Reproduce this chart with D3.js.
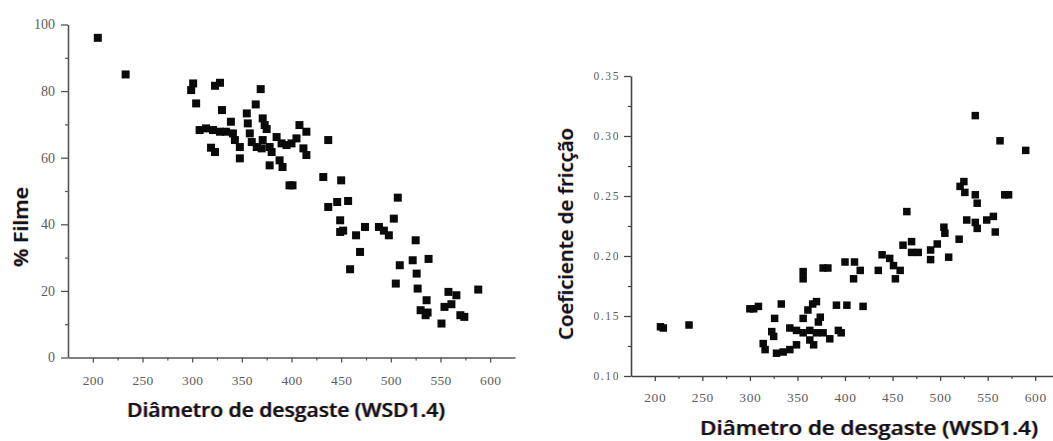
<!DOCTYPE html>
<html>
<head>
<meta charset="utf-8">
<script src="https://cdn.jsdelivr.net/npm/d3@7"></script>
<style>
  html, body { margin: 0; padding: 0; background: #fff; }
  svg { display: block; }
  .axis-title { font-family: "Open Sans", "Noto Sans", sans-serif; font-weight: 600; }
</style>
</head>
<body>
<svg id="chart" width="1053" height="441"></svg>
<script>
// Wear scar diameter (WSD1.4) vs % film
const wsdFilm = [205, 233, 299, 301, 304, 323, 328, 330, 364, 369,
  307.5, 314, 321, 328, 334, 319, 323, 339, 341, 343, 348, 348,
  355, 356, 358, 360, 365, 371, 373, 371, 370, 375, 378, 380, 378,
  385, 388, 391, 390, 395, 400, 405, 398, 401, 408, 415, 412, 415,
  437, 432, 450, 437, 446, 457, 449, 449, 452, 465, 474, 469, 459,
  488, 493, 498, 503, 507, 505, 509, 522, 525, 526, 527, 538,
  530, 535, 536, 537, 551, 554, 558, 561, 566, 570, 574, 588];
const pctFilm = [96, 85, 80.3, 82.3, 76.3, 81.6, 82.5, 74.3, 76, 80.6,
  68.3, 68.8, 68.3, 67.8, 67.8, 63, 61.7, 70.8, 67.3, 65.3, 63.2, 59.8,
  73.3, 70.3, 67.3, 64.7, 63.2, 71.8, 69.8, 65.3, 62.8, 68.6, 63.2, 61.7, 57.7,
  66.2, 59.2, 57.2, 64.3, 63.8, 64.3, 65.8, 51.7, 51.7, 69.8, 67.8, 62.8, 60.8,
  65.3, 54.2, 53.2, 45.2, 46.7, 47, 41.2, 37.7, 38.1, 36.7, 39.2, 31.7, 26.5,
  39.2, 38.1, 36.7, 41.7, 48, 22.2, 27.7, 29.2, 35.2, 25.2, 20.7, 29.6,
  14.2, 12.7, 17.2, 13.5, 10.2, 15.2, 19.7, 16, 18.7, 12.7, 12.2, 20.4];

// Wear scar diameter (WSD1.4) vs friction coefficient
const wsdFric = [206, 209, 236, 300, 304, 309, 333, 326, 323, 325,
  314, 316, 328, 335, 342, 349, 342, 349, 356, 361, 366, 370,
  356, 363, 370, 377, 384, 363, 367, 374, 372, 393, 396,
  391, 402, 419, 356, 356, 377, 382, 400, 410, 416, 409,
  435, 439, 447, 451, 458, 453, 465, 461, 470, 470, 477,
  490, 490, 497, 504, 505, 509, 520, 521, 525, 526, 537, 539,
  528, 537, 539, 549, 556, 558, 537, 563, 568, 572, 590];
const coefFric = [0.141, 0.140, 0.1425, 0.156, 0.156, 0.158, 0.160, 0.148, 0.137, 0.133,
  0.127, 0.122, 0.119, 0.120, 0.122, 0.126, 0.140, 0.138, 0.148, 0.155, 0.160, 0.162,
  0.136, 0.138, 0.136, 0.136, 0.131, 0.130, 0.126, 0.149, 0.145, 0.138, 0.136,
  0.159, 0.159, 0.158, 0.181, 0.187, 0.190, 0.190, 0.195, 0.195, 0.188, 0.181,
  0.188, 0.201, 0.198, 0.192, 0.188, 0.181, 0.237, 0.209, 0.212, 0.203, 0.203,
  0.197, 0.205, 0.210, 0.224, 0.219, 0.199, 0.214, 0.258, 0.262, 0.253, 0.251, 0.244,
  0.230, 0.228, 0.223, 0.230, 0.233, 0.220, 0.317, 0.296, 0.251, 0.251, 0.288];

// Axis ticks
const wsdTicks = [200, 250, 300, 350, 400, 450, 500, 550, 600];
const wsdMinorTicks = [225, 275, 325, 375, 425, 475, 525, 575];
const filmTicks = [0, 20, 40, 60, 80, 100];
const filmMinorTicks = [10, 30, 50, 70, 90];
const fricTicks = [0.10, 0.15, 0.20, 0.25, 0.30, 0.35];
const fricMinorTicks = [0.125, 0.175, 0.225, 0.275, 0.325];

const xTitle = "Diâmetro de desgaste (WSD1.4)";
const tickFont = "Liberation Serif";

const svg = d3.select("#chart");

// Axis title with a faint orange/blue colour fringe around dark text
function axisTitle(g, text, x, y, rotate, length) {
  const layers = [
    { d: -0.7, color: "#d98a2b", op: 0.75 },
    { d: 0.7, color: "#3b5fb0", op: 0.55 },
    { d: 0, color: "#121220", op: 1 }
  ];
  layers.forEach(l => {
    const t = g.append("text")
      .attr("class", "axis-title")
      .attr("font-size", 20)
      .attr("fill", l.color)
      .attr("opacity", l.op)
      .attr("text-anchor", "middle")
      .attr("textLength", length)
      .attr("lengthAdjust", "spacingAndGlyphs")
      .text(text);
    if (rotate) {
      t.attr("transform", `translate(${x},${y + l.d}) rotate(-90)`);
    } else {
      t.attr("x", x + l.d).attr("y", y);
    }
  });
}

function panel(cfg) {
  const g = svg.append("g");
  const x = d3.scaleLinear().domain([175, 625]).range(cfg.xRange);
  const y = d3.scaleLinear().domain(cfg.yDomain).range(cfg.yRange);
  const axisColor = cfg.axisColor;

  // minor ticks (no labels)
  const xMinor = g.append("g")
    .attr("transform", `translate(0,${cfg.yRange[0]})`)
    .call(d3.axisBottom(x).tickValues(wsdMinorTicks).tickSize(3).tickFormat(""));
  const yMinor = g.append("g")
    .attr("transform", `translate(${cfg.xRange[0]},0)`)
    .call(d3.axisLeft(y).tickValues(cfg.yMinor).tickSize(3).tickFormat(""));
  [xMinor, yMinor].forEach(a => {
    a.select(".domain").remove();
    a.selectAll("line").attr("stroke", axisColor).attr("stroke-width", 1.2);
  });

  // major axes
  const xAxis = g.append("g")
    .attr("transform", `translate(0,${cfg.yRange[0]})`)
    .call(d3.axisBottom(x).tickValues(wsdTicks).tickSize(5).tickPadding(cfg.xPad).tickSizeOuter(0));
  const yAxis = g.append("g")
    .attr("transform", `translate(${cfg.xRange[0]},0)`)
    .call(d3.axisLeft(y).tickValues(cfg.yTicks).tickSize(7).tickPadding(cfg.yPad)
      .tickFormat(cfg.yFormat).tickSizeOuter(0));
  [xAxis, yAxis].forEach(a => {
    a.attr("font-family", tickFont);
    a.select(".domain").attr("stroke", axisColor).attr("stroke-width", 1.6);
    a.selectAll(".tick line").attr("stroke", axisColor).attr("stroke-width", 1.3);
    a.selectAll(".tick text").attr("fill", "#5c5c5c").style("font-family", tickFont);
  });
  xAxis.selectAll("text").attr("font-size", cfg.xFont).attr("letter-spacing", cfg.xSpacing);
  yAxis.selectAll("text").attr("font-size", cfg.yFont).attr("letter-spacing", cfg.ySpacing);

  // markers
  const s = cfg.marker;
  g.append("g").selectAll("rect")
    .data(d3.zip(cfg.xs, cfg.ys))
    .join("rect")
    .attr("x", d => x(d[0]) - s / 2)
    .attr("y", d => y(d[1]) - s / 2)
    .attr("width", s)
    .attr("height", s)
    .attr("fill", "#0a0a0a");

  axisTitle(g, xTitle, cfg.xTitle[0], cfg.xTitle[1], false, cfg.xTitle[2]);
  axisTitle(g, cfg.yTitleText, cfg.yTitle[0], cfg.yTitle[1], true, cfg.yTitle[2]);
}

panel({
  xRange: [68, 515],
  yDomain: [0, 100], yRange: [357.5, 24.5],
  yTicks: filmTicks, yMinor: filmMinorTicks, yFormat: d3.format("d"),
  xs: wsdFilm, ys: pctFilm,
  axisColor: "#555",
  xFont: 13.5, xSpacing: 0.3, xPad: 13,
  yFont: 14, ySpacing: 0, yPad: 6,
  marker: 8,
  xTitle: [286, 417, 318],
  yTitleText: "% Filme",
  yTitle: [28, 227, 80]
});

panel({
  xRange: [631, 1059],
  yDomain: [0.10, 0.35], yRange: [376, 76],
  yTicks: fricTicks, yMinor: fricMinorTicks, yFormat: d3.format(".2f"),
  xs: wsdFric, ys: coefFric,
  axisColor: "#444",
  xFont: 13.5, xSpacing: 0.6, xPad: 11,
  yFont: 11.5, ySpacing: 1.6, yPad: 4,
  marker: 7.5,
  xTitle: [869, 435, 338],
  yTitleText: "Coeficiente de fricção",
  yTitle: [573, 234, 212]
});
</script>
</body>
</html>
